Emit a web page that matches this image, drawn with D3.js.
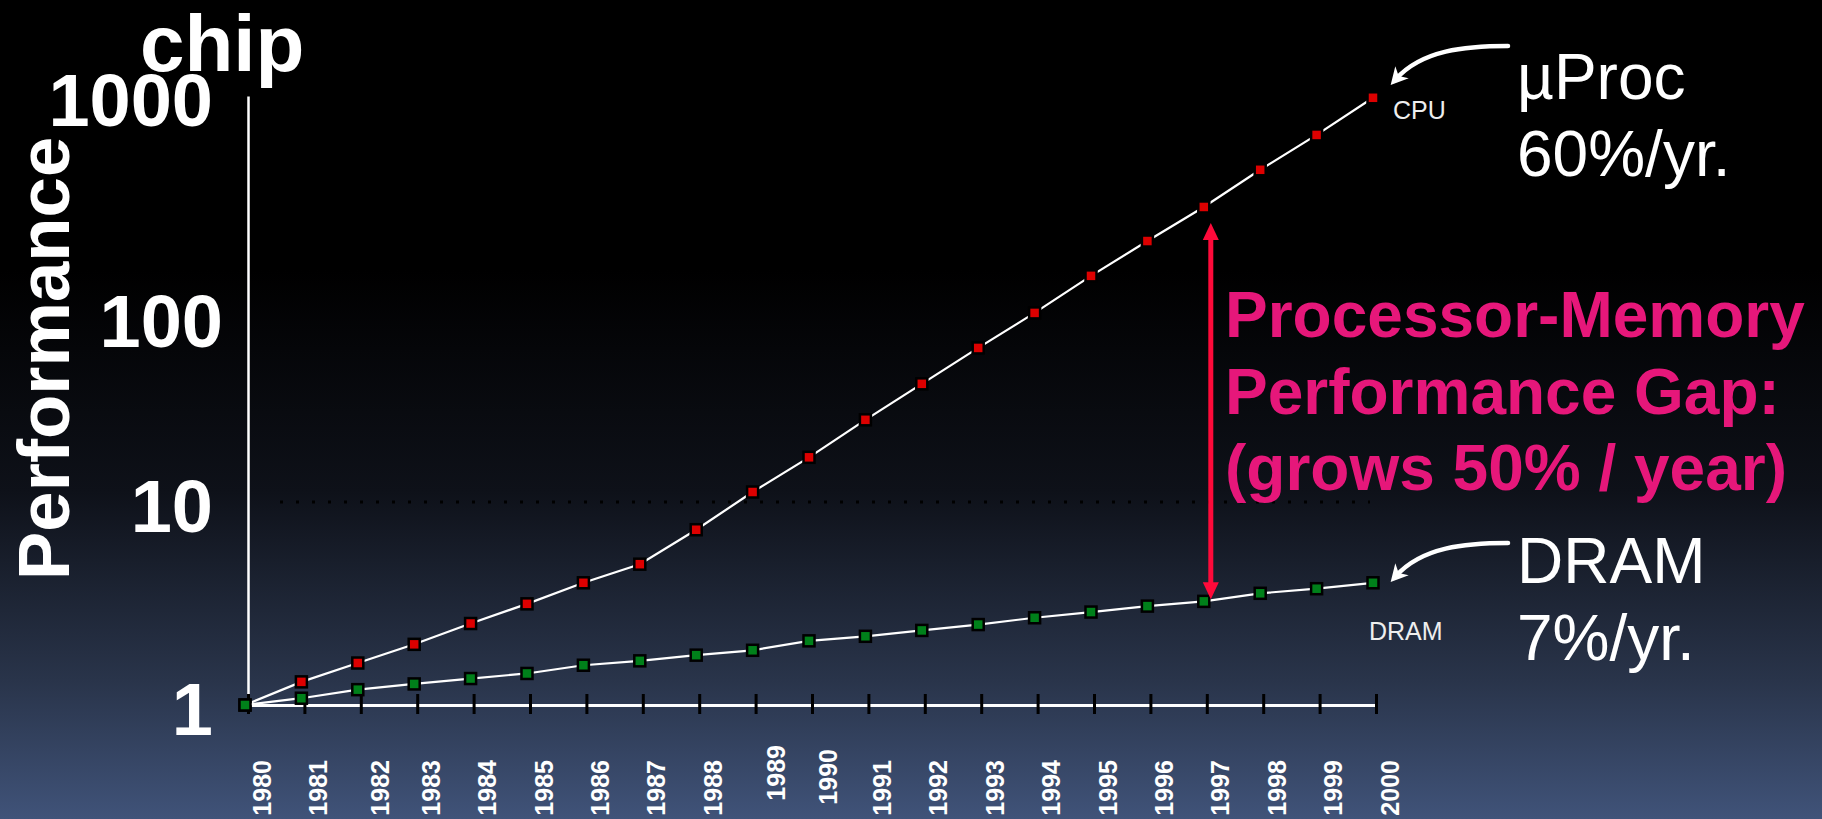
<!DOCTYPE html>
<html>
<head>
<meta charset="utf-8">
<script src="https://cdn.jsdelivr.net/npm/d3@7"></script>
<style>
html, body { margin:0; padding:0; background:#000; overflow:hidden; }
text { font-family: "Liberation Sans", Arial, Helvetica, sans-serif; }
</style>
</head>
<body>
<div id="canvas"></div>
<script>
// data
var years = [1980, 1981, 1982, 1983, 1984, 1985, 1986, 1987, 1988, 1989, 1990,
             1991, 1992, 1993, 1994, 1995, 1996, 1997, 1998, 1999, 2000];
var cpuPerf = [1, 1.30, 1.61, 1.99, 2.52, 3.15, 4.0, 4.94, 7.3, 11.2, 16.6,
               25.4, 38.2, 57.4, 85.4, 130, 193, 284, 433, 643, 980];
var dramPerf = [1, 1.08, 1.19, 1.27, 1.35, 1.43, 1.57, 1.65, 1.76, 1.86, 2.07,
                2.18, 2.33, 2.49, 2.69, 2.87, 3.07, 3.24, 3.55, 3.74, 4.0];
var yTicks = [1, 10, 100, 1000];
var gapYear = 1997;

var W = 1822, H = 819;

var svg = d3.select('#canvas')
    .append('svg')
    .attr('width', W)
    .attr('height', H);

// background gradient
var defs = svg.append('defs');
var grad = defs.append('linearGradient').attr('id', 'bg')
    .attr('x1', 0).attr('y1', 0).attr('x2', 0).attr('y2', 1);
[[0, '#000000'], [0.33, '#000000'], [0.6, '#0e1119'], [0.83, '#29344a'], [1, '#405379']]
    .forEach(function(s){ grad.append('stop').attr('offset', s[0]).attr('stop-color', s[1]); });
svg.append('rect').attr('width', W).attr('height', H).attr('fill', 'url(#bg)');

// arrow markers
defs.append('marker').attr('id', 'wArrow')
    .attr('viewBox', '-20 -10 22 20').attr('markerUnits', 'userSpaceOnUse')
    .attr('markerWidth', 22).attr('markerHeight', 20)
    .attr('refX', -8).attr('refY', 0).attr('orient', 'auto')
    .append('path').attr('d', 'M0,0 L-17,-9 L-12,0 L-17,9 Z').attr('fill', '#fff');
defs.append('marker').attr('id', 'rArrow')
    .attr('viewBox', '-18 -9 20 18').attr('markerUnits', 'userSpaceOnUse')
    .attr('markerWidth', 20).attr('markerHeight', 18)
    .attr('refX', -10).attr('refY', 0).attr('orient', 'auto-start-reverse')
    .append('path').attr('d', 'M0,0 L-17,-8 L-17,8 Z').attr('fill', '#ff0a3a');

var x = d3.scaleLinear().domain([1980, 2000]).range([248, 1376]);
var y = d3.scaleLog().domain([1, 1000]).range([705, 96]);

// dotted guide at 10
svg.append('line')
    .attr('x1', x(1980) + 32).attr('x2', x(2000) - 6)
    .attr('y1', y(10)).attr('y2', y(10))
    .attr('stroke', '#000').attr('stroke-width', 3)
    .attr('stroke-dasharray', '3,13');

// y axis
var yAxis = svg.append('g')
    .attr('transform', 'translate(' + x(1980) + ',0)')
    .call(d3.axisLeft(y).tickValues(yTicks).tickFormat(d3.format('d')).tickSize(0).tickSizeOuter(0).tickPadding(35));
yAxis.select('.domain').attr('stroke', '#fff').attr('stroke-width', 2.5);
var yNudge = {100: [10, 18]};
yAxis.selectAll('.tick text')
    .attr('fill', '#fff')
    .attr('dy', '0.4em')
    .attr('dx', function(d){ return yNudge[d] ? yNudge[d][0] : 0; })
    .attr('transform', function(d){ return yNudge[d] ? 'translate(0,' + yNudge[d][1] + ')' : null; })
    .style('font-size', '74px').style('font-weight', 'bold');

// x axis
var xAxis = svg.append('g')
    .attr('transform', 'translate(0,' + y(1) + ')')
    .call(d3.axisBottom(x).tickValues(years).tickFormat(d3.format('d')).tickSize(0).tickSizeOuter(0));
xAxis.select('.domain').attr('stroke', '#fff').attr('stroke-width', 3);
xAxis.selectAll('.tick').append('line')
    .attr('y1', -11).attr('y2', 9)
    .attr('stroke', '#000').attr('stroke-width', 3);
var xNudge = {1982: [6, 0], 1989: [7, -15], 1990: [2, -11]};
xAxis.selectAll('.tick text')
    .attr('fill', '#fff')
    .attr('x', 0).attr('y', 0).attr('dy', null)
    .attr('text-anchor', 'end')
    .attr('transform', function(d){
        var n = xNudge[d] || [0, 0];
        return 'translate(' + (22 + n[0]) + ',' + (55 + n[1]) + ') rotate(-90)';
    })
    .style('font-size', '25px').style('font-weight', 'bold');

// series
var line = d3.line()
    .x(function(d, i){ return x(years[i]); })
    .y(function(d){ return y(d); });

function drawSeries(vals, fill) {
    var g = svg.append('g').attr('transform', 'translate(-3,0)');
    g.append('path').datum(vals)
        .attr('d', line)
        .attr('fill', 'none').attr('stroke', '#fff').attr('stroke-width', 2.2);
    g.selectAll('rect').data(vals).enter().append('rect')
        .attr('x', function(d, i){ return x(years[i]) - 5.5; })
        .attr('y', function(d){ return y(d) - 5.5; })
        .attr('width', 11).attr('height', 11)
        .attr('fill', fill).attr('stroke', '#000').attr('stroke-width', 2.5);
}
drawSeries(cpuPerf, '#dd0000');
drawSeries(dramPerf, '#00801a');

// gap arrow between the two series
var gi = years.indexOf(gapYear);
svg.append('line')
    .attr('x1', x(gapYear) + 4).attr('x2', x(gapYear) + 4)
    .attr('y1', y(cpuPerf[gi]) + 26).attr('y2', y(dramPerf[gi]) - 12)
    .attr('stroke', '#ff0a3a').attr('stroke-width', 5)
    .attr('marker-start', 'url(#rArrow)').attr('marker-end', 'url(#rArrow)');

// gap text
var gapLines = ['Processor-Memory', 'Performance Gap:', '(grows 50% / year)'];
svg.append('g').selectAll('text').data(gapLines).enter().append('text')
    .attr('x', 1225)
    .attr('y', function(d, i){ return 337 + i * 76.5; })
    .attr('fill', '#e6177a')
    .style('font-size', '64px').style('font-weight', 'bold')
    .text(function(d){ return d; });

// axis titles
svg.append('text').attr('x', 140).attr('y', 71)
    .attr('fill', '#fff').style('font-size', '80px').style('font-weight', 'bold')
    .text('chip');
svg.append('text')
    .attr('transform', 'translate(69,580) rotate(-90)')
    .attr('fill', '#fff').style('font-size', '72.5px').style('font-weight', 'bold')
    .text('Performance');

// series labels
function bigLabel(lines, y0) {
    svg.append('g').selectAll('text').data(lines).enter().append('text')
        .attr('x', 1517)
        .attr('y', function(d, i){ return y0 + i * 77; })
        .attr('fill', '#fff').style('font-size', '64px')
        .text(function(d){ return d; });
}
bigLabel(['\u00b5Proc', '60%/yr.'], 99);
bigLabel(['DRAM', '7%/yr.'], 583);

svg.append('text').attr('x', 1393).attr('y', 119)
    .attr('fill', '#eee').style('font-size', '25px').text('CPU');
svg.append('text').attr('x', 1369).attr('y', 640)
    .attr('fill', '#eee').style('font-size', '25px').text('DRAM');

// curved pointer arrows
[0, 497].forEach(function(dy){
    svg.append('path')
        .attr('d', 'M1508,' + (46 + dy) + ' C1465,' + (46 + dy) + ' 1422,' + (50 + dy) + ' 1396,' + (79 + dy))
        .attr('fill', 'none').attr('stroke', '#fff').attr('stroke-width', 4.5)
        .attr('stroke-linecap', 'round')
        .attr('marker-end', 'url(#wArrow)');
});
</script>
</body>
</html>
